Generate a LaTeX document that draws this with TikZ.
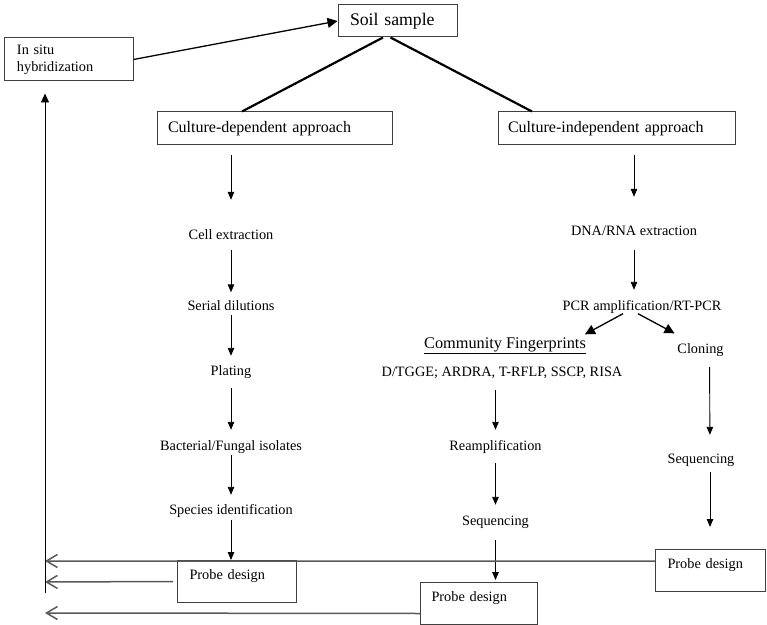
\documentclass[tikz,border=0pt]{standalone}
\usepackage{fontspec}
\setmainfont{Liberation Serif}
\usetikzlibrary{arrows.meta,calc}

\begin{document}
\begin{tikzpicture}[x=1bp,y=-1bp,
		txt/.style={inner sep=0pt,text height=10bp,text depth=3bp,font=\fontsize{14.3bp}{17bp}\selectfont},
		box/.style={draw=black!75,line width=1bp,align=left,inner ysep=0pt,font=\fontsize{14.3bp}{17bp}\selectfont},
		probe/.style={box,anchor=north west,text height=19bp,text depth=23bp},
		flow/.style={-{Triangle[length=8bp,width=6.5bp]},line width=0.9bp},
		fork/.style={-{Triangle[length=10bp,width=10bp]},line width=1.3bp},
		back/.style={-{Straight Barb[length=11bp,width=13bp,line width=1.5bp]},draw=black!65,line width=1.5bp},
		trunk/.style={line width=2.2bp}]
		\useasboundingbox (0,0) rectangle (767,625);
		% top boxes
		\node[box,font=\fontsize{17.7bp}{20bp}\selectfont,inner xsep=12bp,text width=95bp,minimum height=32bp] (soil) at (397.5,21) {Soil sample};
		\node[box,inner xsep=12bp,text width=104bp,minimum height=43bp] (insitu) at (69,59.5) {In situ\\hybridization};
		\node[box,font=\fontsize{16bp}{19bp}\selectfont,inner xsep=11bp,text width=213bp,minimum height=33bp] (cdep) at (274.5,128.5) {Culture-dependent approach};
		\node[box,font=\fontsize{16bp}{19bp}\selectfont,inner xsep=10bp,text width=217bp,minimum height=33bp] (cindep) at (616.5,128.5) {Culture-independent approach};
		% culture-dependent steps
		\node[txt] (cell)     at (231,236) {Cell extraction};
		\node[txt] (serial)   at (231,307) {Serial dilutions};
		\node[txt] (plating)  at (231,372) {Plating};
		\node[txt] (isolates) at (231,447) {Bacterial/Fungal isolates};
		\node[txt] (species)  at (231,511) {Species identification};
		% culture-independent steps
		\node[txt] (dna)     at (634,232) {DNA/RNA extraction};
		\node[txt] (pcr)     at (642,307) {PCR amplification/RT-PCR};
		\node[txt,font=\fontsize{16.3bp}{19bp}\selectfont] (cf) at (505,345) {\underline{Community Fingerprints}};
		\node[txt] (methods) at (502,373) {D/TGGE; ARDRA, T-RFLP, SSCP, RISA};
		\node[txt] (ream)    at (495.5,447) {Reamplification};
		\node[txt] (seqM)    at (495.5,522) {Sequencing};
		\node[txt] (cloning) at (700.5,350) {Cloning};
		\node[txt] (seqR)    at (701,460) {Sequencing};
		% probe design boxes
		\node[probe,inner xsep=12bp,text width=95bp] (probeL) at (177,560) {Probe design};
		\node[probe,inner xsep=11bp,text width=95bp] (probeM) at (420,582) {Probe design};
		\node[probe,inner xsep=12bp,text width=86bp] (probeR) at (655,549) {Probe design};
		% feedback ends
		\coordinate (fbA) at (45,561);
		\coordinate (fbB) at (45,582);
		\coordinate (fbC) at (45,613);
		\coordinate (fbfoot) at (45,593);
		% soil sample links
		\draw[fork] (insitu.east) -- (soil.west);
		\draw[trunk] ([xshift=-14.5bp]soil.south) -- ([xshift=-32.5bp]cdep.north);
		\draw[trunk] ([xshift=-7bp]soil.south) -- ([xshift=-84.5bp]cindep.north);
		% left column
		\draw[flow,shorten <=10bp,shorten >=29.5bp] (cdep.south -| cell) -- (cell);
		\draw[flow,shorten <=7bp,shorten >=8bp] (cell) -- (serial);
		\draw[flow,shorten <=1.5bp,shorten >=9.5bp] (serial) -- (plating);
		\draw[flow,shorten <=9.5bp,shorten >=10.5bp] (plating) -- (isolates);
		\draw[flow,shorten <=1.5bp,shorten >=9.5bp] (isolates) -- (species);
		\draw[flow,shorten <=2.5bp] (species) -- (species |- probeL.north);
		% right column
		\draw[flow,shorten <=10bp,shorten >=28.5bp] (cindep.south -| dna) -- (dna);
		\draw[flow,shorten <=11.5bp,shorten >=10.5bp] (dna) -- (dna |- pcr.north);
		\draw[fork] ([xshift=-19bp]pcr.south) -- ([xshift=80bp,yshift=4bp]cf.north);
		\draw[fork] ([xshift=-4bp]pcr.south) -- ([xshift=-26bp,yshift=10bp]cloning.north);
		\draw[flow,shorten <=10.5bp,shorten >=18.5bp] ([xshift=9bp]cloning.south) -- ([xshift=9bp]seqR.north);
		\draw[flow,shorten <=5.5bp,shorten >=22bp] ([xshift=9bp]seqR.south) -- ([xshift=9bp]seqR.south |- probeR.north);
		% middle column
		\draw[flow,shorten <=10.5bp,shorten >=10.5bp] (methods.south -| ream) -- (ream);
		\draw[flow,shorten <=9.5bp,shorten >=10.5bp] (ream) -- (seqM);
		\draw[flow,shorten <=11.5bp,shorten >=2bp] (seqM) -- (seqM |- probeM.north);
		% probe feedback
		\draw[back] ([yshift=-12bp]probeR.north west) -- (fbA);
		\draw[back] ([xshift=-4bp]probeL.west) -- (fbB);
		\draw[back] ([yshift=-10bp]probeM.west) -- (fbC);
		\draw[-{Triangle[length=9bp,width=8bp]},line width=0.9bp,shorten >=12bp] (fbfoot) -- (insitu.south -| fbfoot);
	\end{tikzpicture}
\end{document}
